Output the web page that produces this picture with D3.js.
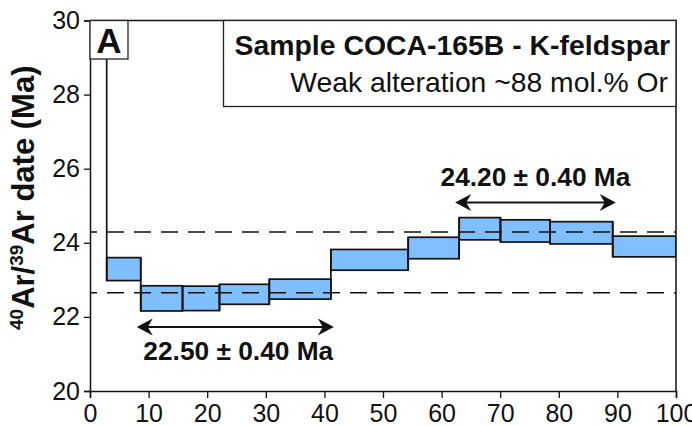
<!DOCTYPE html>
<html>
<head>
<meta charset="utf-8">
<script src="https://cdn.jsdelivr.net/npm/d3@7"></script>
<style>
  html, body { margin: 0; padding: 0; background: #fff; }
  svg { display: block; font-family: "Liberation Sans", Arial, Helvetica, sans-serif; }
</style>
</head>
<body>
<svg id="chart" width="692" height="426"></svg>
<script>
// Cumulative %39Ar released at each step boundary
const cumGas = [0, 2.85, 8.66, 15.8, 22.1, 30.6, 41.1, 54.3, 63.0, 70.05, 78.5, 89.2, 100];
// Apparent 40Ar/39Ar date of each heating step (Ma) and its error half-width (Ma)
const stepAge = [32.0, 23.29, 22.50, 22.50, 22.61, 22.75, 23.54, 23.86, 24.38, 24.32, 24.27, 23.90];
const stepErr = [1.5, 0.31, 0.34, 0.33, 0.27, 0.27, 0.28, 0.29, 0.30, 0.30, 0.30, 0.28];

// Dashed reference dates (Ma)
const refDates = [24.29, 22.65];

// Plateau segments: first and last step index, label, placement
const plateauFirst = [2, 8];
const plateauLast = [5, 10];
const plateauLabel = ["22.50 ± 0.40 Ma", "24.20 ± 0.40 Ma"];
const plateauSide = ["below", "above"];

const xTicks = [0, 10, 20, 30, 40, 50, 60, 70, 80, 90, 100];
const yTicks = [20, 22, 24, 26, 28, 30];

const sampleTitle = "Sample COCA-165B - K-feldspar";
const sampleNote = "Weak alteration ~88 mol.% Or";
const panelTag = "A";

const svg = d3.select("#chart");
const margin = { left: 90, right: 16, top: 20.5, bottom: 35 };
const W = 692, H = 426;
const x = d3.scaleLinear().domain([0, 100]).range([margin.left, W - margin.right]);
const y = d3.scaleLinear().domain([20, 30]).range([H - margin.bottom, margin.top]);

const font = '"Liberation Sans", Arial, Helvetica, sans-serif';

svg.append("defs").append("clipPath").attr("id", "plotClip")
  .append("rect")
  .attr("x", x(0)).attr("y", y(30))
  .attr("width", x(100) - x(0)).attr("height", y(20) - y(30));

const plot = svg.append("g").attr("clip-path", "url(#plotClip)");

const steps = stepAge.map((a, i) => ({
  x0: cumGas[i], x1: cumGas[i + 1], lo: a - stepErr[i], hi: a + stepErr[i]
}));

// Step boxes
plot.selectAll("rect.step").data(steps).join("rect")
  .attr("class", "step")
  .attr("x", d => x(d.x0))
  .attr("y", d => y(d.hi))
  .attr("width", d => x(d.x1) - x(d.x0))
  .attr("height", d => y(d.lo) - y(d.hi))
  .attr("fill", "#80bfff")
  .attr("stroke", "#111")
  .attr("stroke-width", 1.7);

// Vertical connectors between consecutive steps
const joins = d3.range(1, steps.length).map(i => ({
  gx: cumGas[i],
  top: Math.max(steps[i - 1].hi, steps[i].hi),
  bot: Math.min(steps[i - 1].lo, steps[i].lo)
}));
plot.selectAll("line.join").data(joins).join("line")
  .attr("class", "join")
  .attr("x1", d => x(d.gx)).attr("x2", d => x(d.gx))
  .attr("y1", d => y(d.top)).attr("y2", d => y(d.bot))
  .attr("stroke", "#111").attr("stroke-width", 1.7);

// Dashed reference lines
plot.selectAll("line.ref").data(refDates).join("line")
  .attr("class", "ref")
  .attr("x1", x(0)).attr("x2", x(100))
  .attr("y1", d => y(d)).attr("y2", d => y(d))
  .attr("stroke", "#111").attr("stroke-width", 1.5)
  .attr("stroke-dasharray", "17,10")
  .attr("stroke-dashoffset", 10);

// Frame (top and right)
svg.append("path")
  .attr("d", `M${x(0)},${y(30)}H${x(100)}V${y(20)}`)
  .attr("fill", "none").attr("stroke", "#111").attr("stroke-width", 1.5);

// Axes
const xAxis = svg.append("g")
  .attr("transform", `translate(0,${y(20)})`)
  .call(d3.axisBottom(x).tickValues(xTicks).tickSize(7).tickPadding(6).tickFormat(d3.format("d")));
const yAxis = svg.append("g")
  .attr("transform", `translate(${x(0)},0)`)
  .call(d3.axisLeft(y).tickValues(yTicks).tickSize(6).tickPadding(4).tickFormat(d3.format("d")));
[xAxis, yAxis].forEach(g => {
  g.select(".domain").attr("stroke", "#111").attr("stroke-width", 1.5);
  g.selectAll(".tick line").attr("stroke", "#111").attr("stroke-width", 1.3);
  g.selectAll(".tick text").attr("fill", "#111")
    .style("font-family", font).style("font-size", "25px");
});
xAxis.selectAll(".tick text").attr("dy", "0.72em");

// Y-axis title with superscript mass numbers
const yTitle = svg.append("text")
  .attr("transform", `translate(34,${(y(20) + y(30)) / 2 - 8}) rotate(-90)`)
  .attr("text-anchor", "middle")
  .style("font-family", font).style("font-weight", "bold").style("font-size", "31px")
  .attr("fill", "#111");
yTitle.append("tspan").text("40").style("font-size", "19px").attr("dy", -11);
yTitle.append("tspan").text("Ar/").attr("dy", 11);
yTitle.append("tspan").text("39").style("font-size", "19px").attr("dy", -11);
yTitle.append("tspan").text("Ar date (Ma)").attr("dy", 11);

// Plateau arrows and labels
const arrowHead = "M0,0 L-16,-8.5 L-11,0 L-16,8.5 Z";
plateauFirst.forEach((f, k) => {
  const l = plateauLast[k];
  const sub = steps.slice(f, l + 1);
  const xa = x(cumGas[f]) - 4;
  const xb = x(cumGas[l + 1]) + 3;
  const below = plateauSide[k] === "below";
  const ya = below ? y(d3.min(sub, d => d.lo)) + 16 : y(d3.max(sub, d => d.hi)) - 15;
  const g = svg.append("g");
  g.append("line")
    .attr("x1", xa + 8).attr("x2", xb - 8).attr("y1", ya).attr("y2", ya)
    .attr("stroke", "#111").attr("stroke-width", 2);
  g.append("path").attr("d", arrowHead).attr("fill", "#111")
    .attr("transform", `translate(${xb},${ya})`);
  g.append("path").attr("d", arrowHead).attr("fill", "#111")
    .attr("transform", `translate(${xa},${ya}) rotate(180)`);
  g.append("text")
    .attr("x", (xa + xb) / 2 + (below ? 3 : 0))
    .attr("y", below ? ya + 33 : ya - 17)
    .attr("text-anchor", "middle")
    .style("font-family", font).style("font-weight", "bold").style("font-size", "26.3px")
    .attr("fill", "#111")
    .text(plateauLabel[k]);
});

// Sample caption box
const boxL = 223.5, boxB = 106.5;
svg.append("rect")
  .attr("x", boxL).attr("y", y(30))
  .attr("width", x(100) - boxL).attr("height", boxB - y(30))
  .attr("fill", "#fff").attr("stroke", "#222").attr("stroke-width", 1.3);
svg.append("text")
  .attr("x", x(100) - 6).attr("y", 55)
  .attr("text-anchor", "end")
  .style("font-family", font).style("font-weight", "bold").style("font-size", "28.4px")
  .attr("fill", "#111").text(sampleTitle);
svg.append("text")
  .attr("x", x(100) - 8).attr("y", 92)
  .attr("text-anchor", "end")
  .style("font-family", font).style("font-size", "28.3px")
  .attr("fill", "#111").text(sampleNote);

// Panel tag
svg.append("rect")
  .attr("x", x(0)).attr("y", y(30))
  .attr("width", 38).attr("height", 38.5)
  .attr("fill", "#fff").attr("stroke", "#222").attr("stroke-width", 1.3);
svg.append("text")
  .attr("x", x(0) + 19).attr("y", y(30) + 32)
  .attr("text-anchor", "middle")
  .style("font-family", font).style("font-weight", "bold").style("font-size", "35px")
  .attr("fill", "#111").text(panelTag);
</script>
</body>
</html>
